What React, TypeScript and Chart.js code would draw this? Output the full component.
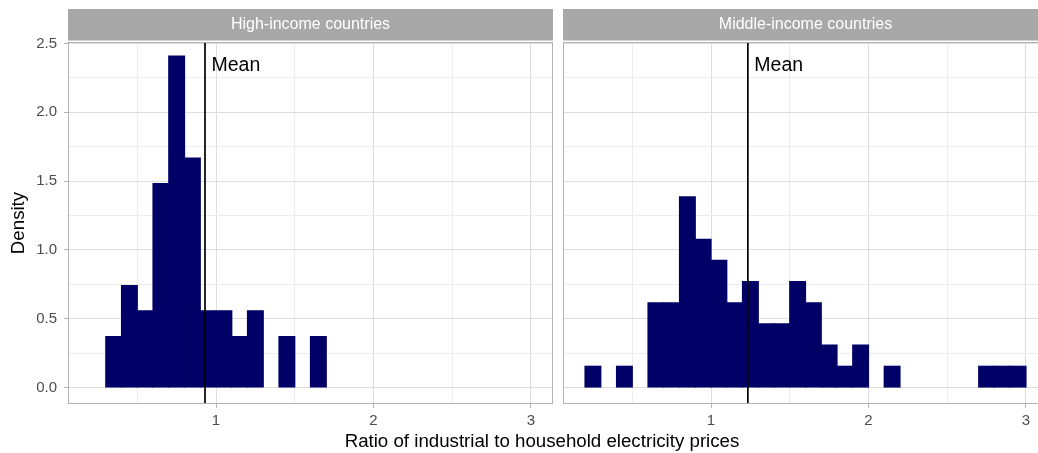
import React, { useEffect, useRef } from "react";
import { Chart, registerables } from "chart.js";

Chart.register(...registerables);

// ---------- data ----------
const HIGH_TITLE = "High-income countries";
const HIGH_BIN_CENTERS = [0.35, 0.45, 0.55, 0.65, 0.75, 0.85, 0.95, 1.05, 1.15, 1.25, 1.35, 1.45, 1.55, 1.65];
const HIGH_DENSITY = [0.37, 0.741, 0.556, 1.481, 2.407, 1.667, 0.556, 0.556, 0.37, 0.556, 0, 0.37, 0, 0.37];
const HIGH_MEAN = 0.93;

const MIDDLE_TITLE = "Middle-income countries";
const MIDDLE_BIN_CENTERS = [
  0.25, 0.35, 0.45, 0.55, 0.65, 0.75, 0.85, 0.95, 1.05, 1.15, 1.25, 1.35, 1.45, 1.55,
  1.65, 1.75, 1.85, 1.95, 2.05, 2.15, 2.25, 2.35, 2.45, 2.55, 2.65, 2.75, 2.85, 2.95,
];
const MIDDLE_DENSITY = [
  0.154, 0, 0.154, 0, 0.615, 0.615, 1.385, 1.077, 0.923, 0.615, 0.769, 0.462, 0.462, 0.769,
  0.615, 0.308, 0.154, 0.308, 0, 0.154, 0, 0, 0, 0, 0, 0.154, 0.154, 0.154,
];
const MIDDLE_MEAN = 1.234;

const MEAN_LABEL = "Mean";
const MEAN_LABEL_Y = 2.34;

const X_MAJOR_TICKS = [1, 2, 3];
const X_MINOR_TICKS = [0.5, 1.5, 2.5];
const Y_MAJOR_TICKS = [0, 0.5, 1, 1.5, 2, 2.5];
const Y_MINOR_TICKS = [0.25, 0.75, 1.25, 1.75, 2.25];

const X_TITLE = "Ratio of industrial to household electricity prices";
const Y_TITLE = "Density";

// ---------- style ----------
const FONT = '"Liberation Sans", Arial, Helvetica, sans-serif';
const BAR_COLOR = "#000066";
const X_MIN = 0.06;
const X_MAX = 3.14;
const Y_MIN = -0.12;
const Y_MAX = 2.51;
const H = 453;
const PANEL_TOP = 42;
const X_AXIS_H = 49;
const Y_AXIS_W = 68;

type PanelProps = {
  title: string;
  centers: number[];
  density: number[];
  mean: number;
  showY: boolean;
  left: number;
  width: number;
};

function Panel({ title, centers, density, mean, showY, left, width }: PanelProps) {
  const ref = useRef<HTMLCanvasElement>(null);

  useEffect(() => {
    const canvas = ref.current;
    if (!canvas) return;

    const facetPlugin = {
      id: "facetDecor",
      afterDatasetsDraw(chart: any) {
        const { ctx, chartArea: a, scales } = chart;
        const xp = scales.x.getPixelForValue(mean);
        ctx.save();
        ctx.strokeStyle = "#000000";
        ctx.lineWidth = 1.7;
        ctx.beginPath();
        ctx.moveTo(xp, a.top);
        ctx.lineTo(xp, a.bottom);
        ctx.stroke();
        ctx.fillStyle = "#000000";
        ctx.font = `19.5px ${FONT}`;
        ctx.textAlign = "left";
        ctx.textBaseline = "middle";
        ctx.fillText(MEAN_LABEL, xp + 6.5, scales.y.getPixelForValue(MEAN_LABEL_Y));
        // panel border
        ctx.strokeStyle = "#B3B3B3";
        ctx.lineWidth = 1;
        ctx.strokeRect(a.left + 0.5, a.top + 0.5, a.right - a.left - 1, a.bottom - a.top - 1);
        // strip
        ctx.fillStyle = "#A8A8A8";
        ctx.fillRect(a.left, 9, a.right - a.left, 31.5);
        ctx.fillStyle = "#FFFFFF";
        ctx.font = `16px ${FONT}`;
        ctx.textAlign = "center";
        ctx.textBaseline = "middle";
        ctx.fillText(title, (a.left + a.right) / 2, 25);
        ctx.restore();
      },
    };

    const isXMajor = (v: number) => X_MAJOR_TICKS.includes(v);
    const isYMajor = (v: number) => Y_MAJOR_TICKS.includes(v);

    const chart = new Chart(canvas, {
      type: "bar",
      data: {
        datasets: [
          {
            data: centers.map((c, i) => ({ x: c, y: density[i] })),
            backgroundColor: (c: any) =>
              c.raw && c.raw.y > 0 ? BAR_COLOR : "rgba(0,0,0,0)",
            borderWidth: 0,
            inflateAmount: 0.6,
            barPercentage: 1,
            categoryPercentage: 1,
          },
        ],
      },
      options: {
        animation: false,
        responsive: false,
        maintainAspectRatio: false,
        devicePixelRatio: 1,
        layout: { padding: { top: PANEL_TOP, left: 0, right: 0, bottom: 0 } },
        plugins: { legend: { display: false }, tooltip: { enabled: false } },
        scales: {
          x: {
            type: "linear",
            min: X_MIN,
            max: X_MAX,
            offset: false,
            afterBuildTicks: (s: any) => {
              s.ticks = [...X_MINOR_TICKS, ...X_MAJOR_TICKS]
                .sort((a, b) => a - b)
                .map((v) => ({ value: v }));
            },
            afterFit: (s: any) => {
              s.height = X_AXIS_H;
            },
            border: { display: false },
            grid: {
              offset: false,
              color: (c: any) => (isXMajor(c.tick?.value) ? "#DEDEDE" : "#EDEDED"),
              tickColor: (c: any) => (isXMajor(c.tick?.value) ? "#B3B3B3" : "rgba(0,0,0,0)"),
              lineWidth: 1,
              tickLength: 4,
            },
            ticks: {
              autoSkip: false,
              maxRotation: 0,
              minRotation: 0,
              padding: 4,
              color: "#4D4D4D",
              font: { family: FONT, size: 15 },
              callback: (v: any) => (isXMajor(Number(v)) ? String(v) : ""),
            },
          },
          y: {
            type: "linear",
            min: Y_MIN,
            max: Y_MAX,
            afterBuildTicks: (s: any) => {
              s.ticks = [...Y_MINOR_TICKS, ...Y_MAJOR_TICKS]
                .sort((a, b) => a - b)
                .map((v) => ({ value: v }));
            },
            afterFit: (s: any) => {
              s.width = showY ? Y_AXIS_W : 0;
            },
            border: { display: false },
            grid: {
              color: (c: any) => (isYMajor(c.tick?.value) ? "#DEDEDE" : "#EDEDED"),
              tickColor: (c: any) => (isYMajor(c.tick?.value) ? "#B3B3B3" : "rgba(0,0,0,0)"),
              lineWidth: 1,
              tickLength: 4,
              drawTicks: showY,
            },
            ticks: {
              display: showY,
              autoSkip: false,
              padding: 7,
              color: "#4D4D4D",
              font: { family: FONT, size: 15 },
              callback: (v: any) => (isYMajor(Number(v)) ? Number(v).toFixed(1) : ""),
            },
            title: {
              display: showY,
              text: Y_TITLE,
              color: "#000000",
              font: { family: FONT, size: 18.7 },
              padding: { top: 8, bottom: 0 },
            },
          },
        },
      },
      plugins: [facetPlugin],
    } as any);

    return () => chart.destroy();
  }, [title, centers, density, mean, showY, width]);

  return (
    <canvas
      ref={ref}
      width={width}
      height={H}
      style={{ position: "absolute", left, top: 0, width, height: H, display: "block" }}
    />
  );
}

export default function App() {
  return (
    <div
      style={{
        position: "absolute",
        left: 0,
        top: 0,
        width: 1038,
        height: H,
        overflow: "hidden",
        background: "#FFFFFF",
      }}
    >
      <Panel
        title={HIGH_TITLE}
        centers={HIGH_BIN_CENTERS}
        density={HIGH_DENSITY}
        mean={HIGH_MEAN}
        showY={true}
        left={0}
        width={Y_AXIS_W + 485}
      />
      <Panel
        title={MIDDLE_TITLE}
        centers={MIDDLE_BIN_CENTERS}
        density={MIDDLE_DENSITY}
        mean={MIDDLE_MEAN}
        showY={false}
        left={563}
        width={485}
      />
      <div
        style={{
          position: "absolute",
          left: 142,
          width: 800,
          top: 431,
          height: 20,
          lineHeight: "20px",
          textAlign: "center",
          fontFamily: FONT,
          fontSize: 18.7,
          color: "#000000",
          whiteSpace: "nowrap",
        }}
      >
        {X_TITLE}
      </div>
    </div>
  );
}
